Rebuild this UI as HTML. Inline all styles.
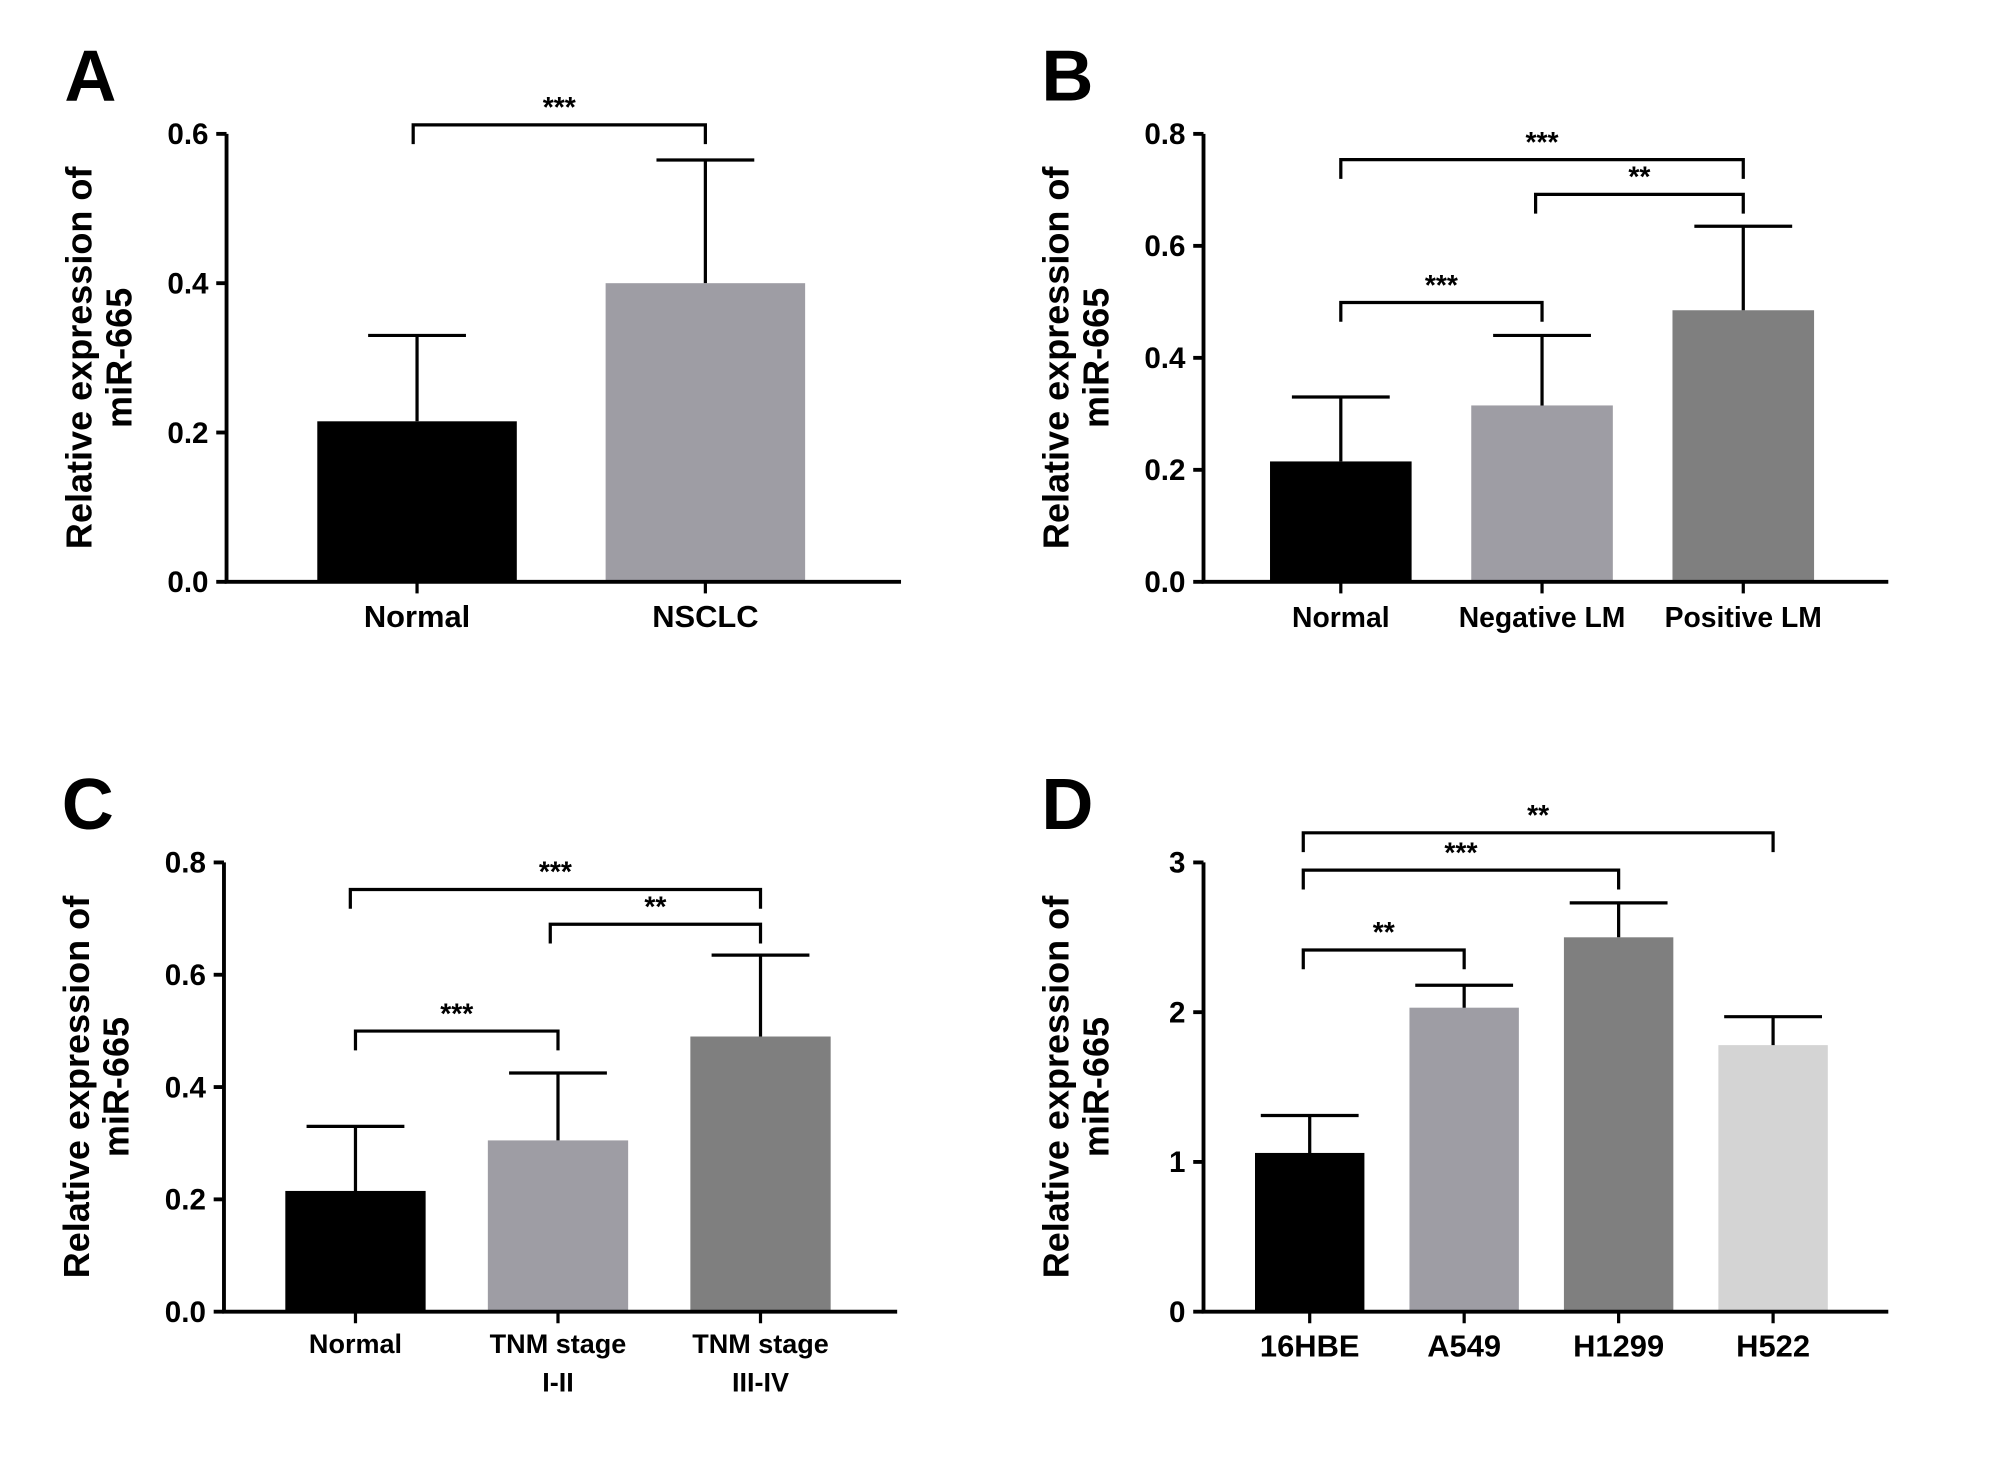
<!DOCTYPE html>
<html><head><meta charset="utf-8"><style>
html,body{margin:0;padding:0;background:#fff;}
svg{display:block;font-family:"Liberation Sans",Arial,sans-serif;font-weight:bold;}
</style></head><body>
<svg id="fig" width="2008" height="1470" viewBox="0 0 1560 1142" preserveAspectRatio="none" xmlns="http://www.w3.org/2000/svg"></svg>
<script>
// Panel A data
const catsA = ["Normal", "NSCLC"];
const valsA = [0.215, 0.40];
const errA = [0.33, 0.565];
const ticksA = [0, 0.2, 0.4, 0.6];
// Panel B data
const catsB = ["Normal", "Negative LM", "Positive LM"];
const valsB = [0.215, 0.315, 0.485];
const errB = [0.33, 0.44, 0.635];
const ticksB = [0, 0.2, 0.4, 0.6, 0.8];
// Panel C data
const catsC = [["Normal"], ["TNM stage", "I-II"], ["TNM stage", "III-IV"]];
const valsC = [0.215, 0.305, 0.49];
const errC = [0.33, 0.425, 0.635];
const ticksC = [0, 0.2, 0.4, 0.6, 0.8];
// Panel D data
const catsD = ["16HBE", "A549", "H1299", "H522"];
const valsD = [1.06, 2.03, 2.5, 1.78];
const errD = [1.31, 2.18, 2.73, 1.97];
const ticksD = [0, 1, 2, 3];

const NS = "http://www.w3.org/2000/svg";
const svg = document.getElementById("fig");
function mk(tag, attrs, parent, text) {
  const e = document.createElementNS(NS, tag);
  for (const k in attrs) e.setAttribute(k, attrs[k]);
  if (text !== undefined) e.textContent = text;
  (parent || svg).appendChild(e);
  return e;
}

function panel(cfg) {
  const g = mk("g", {});
  
  
  const yMin = cfg.ticks[0], yMax = cfg.ticks[cfg.ticks.length - 1];
  const ys = v => cfg.y0 - (v - yMin) / (yMax - yMin) * (cfg.y0 - cfg.yTop);
  const n = cfg.cats.length;
  const step = (cfg.xEnd - cfg.x0) / n;
  const cx = i => cfg.x0 + cfg.padL + step * i + step / 2 + cfg.shift * i;
  const bw = cfg.bw;
  const L = mk("text", {x: cfg.x0 - 126, y: cfg.yTop - 26, "font-size": 56}, g, cfg.letter);
  
  
  const tt = mk("text", {transform: `translate(${cfg.x0 - 92},${(cfg.y0 + cfg.yTop) / 2}) rotate(-90)`, "text-anchor": "middle", "font-size": 28}, g);
  
  
  mk("tspan", {x: 0, dy: -13}, tt, "Relative expression of");
  mk("tspan", {x: 0, dy: 31}, tt, "miR-665");
  cfg.vals.forEach((v, i) => {
    const r = mk("rect", {x: cx(i) - bw / 2, y: ys(v), width: bw, height: ys(yMin) - ys(v), fill: cfg.colors[i]}, g);
    
    
    const eb = mk("path", {d: `M${cx(i)},${ys(v)}V${ys(cfg.err[i])}M${cx(i) - 38},${ys(cfg.err[i])}H${cx(i) + 38}`, stroke: "#000", "stroke-width": 2.5, fill: "none"}, g);
    
    
  });
  const ax = mk("path", {d: `M${cfg.x0},${cfg.yTop}V${cfg.y0}H${cfg.xEnd}`, stroke: "#000", "stroke-width": 3, fill: "none"}, g);
  
  
  cfg.ticks.forEach(t => {
    mk("line", {x1: cfg.x0 - 8, x2: cfg.x0, y1: ys(t), y2: ys(t), stroke: "#000", "stroke-width": 3}, g);
    const tl = mk("text", {x: cfg.x0 - 14, y: ys(t) + 8, "text-anchor": "end", "font-size": 23}, g, cfg.dec ? t.toFixed(1) : String(t));
    
    
  });
  cfg.cats.forEach((c, i) => {
    mk("line", {x1: cx(i), x2: cx(i), y1: cfg.y0, y2: cfg.y0 + 9, stroke: "#000", "stroke-width": 2.5}, g);
    const lines = Array.isArray(c) ? c : [c];
    lines.forEach((s, k) => {
      const xl = mk("text", {x: cx(i), y: cfg.y0 + cfg.xdy + k * 30, "text-anchor": "middle", "font-size": cfg.xfs}, g, s);
      
      
    });
  });
  cfg.brackets.forEach(b => {
    const x1 = cx(b[0]) + (b[4] || 0), x2 = cx(b[1]);
    const p = mk("path", {d: `M${x1},${b[2] + 15}V${b[2]}H${x2}V${b[2] + 15}`, stroke: "#000", "stroke-width": 2.5, fill: "none"}, g);
    
    
    const s = mk("text", {x: (x1 + x2) / 2, y: b[2] - 6, "text-anchor": "middle", "font-size": 22}, g, b[3]);
    
    
  });
}

panel({letter: "A", cats: catsA, vals: valsA, err: errA, ticks: ticksA, dec: true,
  x0: 176, xEnd: 700, y0: 452, yTop: 104, bw: 155, padL: 17, shift: -38, xfs: 24, xdy: 35,
  colors: ["#000", "#9e9da4"], brackets: [[0, 1, 97, "***", -3]]});
panel({letter: "B", cats: catsB, vals: valsB, err: errB, ticks: ticksB, dec: true,
  x0: 935, xEnd: 1467, y0: 452, yTop: 104, bw: 110, padL: 18, shift: -21, xfs: 22, xdy: 35,
  colors: ["#000", "#9e9da4", "#7f7f7f"], brackets: [[0, 2, 124, "***"], [1, 2, 151, "**", -5], [0, 1, 235, "***", 0]]});
panel({letter: "C", cats: catsC, vals: valsC, err: errC, ticks: ticksC, dec: true,
  x0: 174, xEnd: 697, y0: 1019, yTop: 670, bw: 109, padL: 15, shift: -17, xfs: 21, xdy: 32,
  colors: ["#000", "#9e9da4", "#7f7f7f"], brackets: [[0, 2, 691, "***", -4], [1, 2, 718, "**", -6], [0, 1, 801, "***"]]});
panel({letter: "D", cats: catsD, vals: valsD, err: errD, ticks: ticksD, dec: false,
  x0: 935, xEnd: 1467, y0: 1019, yTop: 670, bw: 85, padL: 16, shift: -13, xfs: 24, xdy: 35,
  colors: ["#000", "#9e9da4", "#7f7f7f", "#d4d4d4"], brackets: [[0, 3, 647, "**", -5], [0, 2, 676, "***", -5], [0, 1, 738, "**", -5]]});
</script>
</body></html>
